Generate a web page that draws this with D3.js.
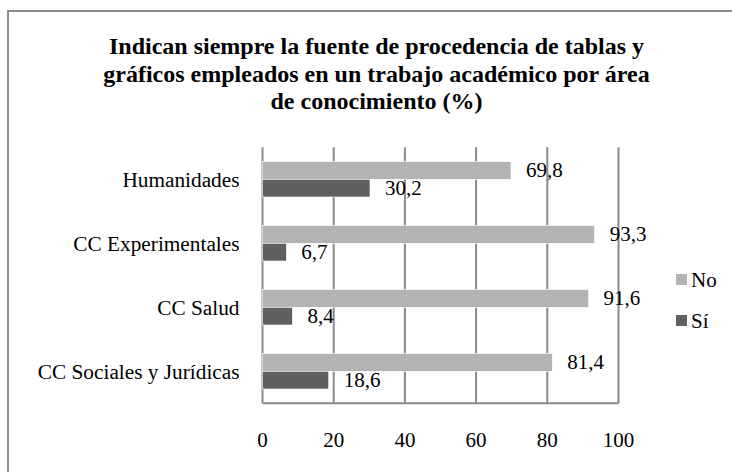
<!DOCTYPE html>
<html>
<head>
<meta charset="utf-8">
<script src="https://cdn.jsdelivr.net/npm/d3@7"></script>
<style>
  body { margin: 0; background: #fff; }
</style>
</head>
<body>
<script>
// data
var categories = ['Humanidades', 'CC Experimentales', 'CC Salud', 'CC Sociales y Jurídicas'];
var seriesNames = ['No', 'Sí'];
var noValues = [69.8, 93.3, 91.6, 81.4];
var siValues = [30.2, 6.7, 8.4, 18.6];
var tickValues = [0, 20, 40, 60, 80, 100];
var titleLines = [
	'Indican siempre la fuente de procedencia de tablas y',
	'gráficos empleados en un trabajo académico por área',
	'de conocimiento (%)'
];

var width = 732,
	height = 472,
	margin = { top: 147.3, right: 113.5, bottom: 68.7, left: 262.5 };

var colors = { 'No': '#b3b3b3', 'Sí': '#606060' };
var gridColor = '#8a8a8a';
var serif = "'Liberation Serif', 'Times New Roman', Times, serif";

var svg = d3.select('body').append('svg')
	.attr('width', width)
	.attr('height', height)
	.attr('font-family', serif);

svg.append('rect')
	.attr('width', width)
	.attr('height', height)
	.attr('fill', '#fff');

// outer chart border (right and bottom edges fall outside the picture)
svg.append('rect')
	.attr('x', 8)
	.attr('y', 11)
	.attr('width', 760)
	.attr('height', 500)
	.attr('fill', 'none')
	.attr('stroke', '#8c8c8c')
	.attr('stroke-width', 2);

// title
svg.append('text')
	.attr('text-anchor', 'middle')
	.style('font-weight', 'bold')
	.style('font-size', '24px')
	.selectAll('tspan')
	.data(titleLines)
	.enter().append('tspan')
	.attr('x', 376.5)
	.attr('y', function(d, i) { return 54 + i * 27.5; })
	.text(function(d) { return d; });

var plotW = width - margin.left - margin.right,
	plotH = height - margin.top - margin.bottom;

var xScale = d3.scaleLinear().domain([0, 100]).range([0, plotW]);
var yScale = d3.scaleBand().domain(categories).range([0, plotH]);
var ySeries = d3.scaleBand().domain(seriesNames)
	.range([0, yScale.bandwidth()])
	.paddingOuter(0.81);

var rows = categories.map(function(c, i) {
	return { category: c, values: [
		{ key: 'No', value: noValues[i] },
		{ key: 'Sí', value: siValues[i] }
	] };
});

var g = svg.append('g')
	.attr('transform', 'translate(' + margin.left + ',' + margin.top + ')');

// vertical gridlines
g.selectAll('.grid')
	.data(tickValues)
	.enter().append('line')
	.attr('class', 'grid')
	.attr('x1', function(d) { return xScale(d); })
	.attr('x2', function(d) { return xScale(d); })
	.attr('y1', 0)
	.attr('y2', plotH)
	.attr('stroke', gridColor)
	.attr('stroke-width', 2);

// bottom axis line
g.append('line')
	.attr('x1', 0)
	.attr('x2', plotW)
	.attr('y1', plotH)
	.attr('y2', plotH)
	.attr('stroke', gridColor)
	.attr('stroke-width', 2);

// x tick labels
g.selectAll('.tick-label')
	.data(tickValues)
	.enter().append('text')
	.attr('class', 'tick-label')
	.attr('text-anchor', 'middle')
	.attr('x', function(d) { return xScale(d); })
	.attr('y', plotH + 43.5)
	.style('font-size', '21px')
	.text(function(d) { return d; });

// category labels
g.selectAll('.cat-label')
	.data(categories)
	.enter().append('text')
	.attr('class', 'cat-label')
	.attr('text-anchor', 'end')
	.attr('x', -23)
	.attr('y', function(d) { return yScale(d) + yScale.bandwidth() / 2 + 7.5; })
	.style('font-size', '21.3px')
	.text(function(d) { return d; });

var group = g.selectAll('.row')
	.data(rows)
	.enter().append('g')
	.attr('class', 'row')
	.attr('transform', function(d) { return 'translate(0,' + yScale(d.category) + ')'; });

group.selectAll('rect')
	.data(function(d) { return d.values; })
	.enter().append('rect')
	.attr('x', 0)
	.attr('y', function(d) { return ySeries(d.key); })
	.attr('width', function(d) { return xScale(d.value); })
	.attr('height', ySeries.bandwidth())
	.attr('fill', function(d) { return colors[d.key]; })
	.attr('stroke', '#fff')
	.attr('stroke-width', 0.6);

var fmt = function(v) { return d3.format('.1f')(v).replace('.', ','); };

group.selectAll('.bar-label')
	.data(function(d) { return d.values; })
	.enter().append('text')
	.attr('class', 'bar-label')
	.attr('x', function(d) { return xScale(d.value) + 15; })
	.attr('y', function(d) { return ySeries(d.key) + ySeries.bandwidth() / 2 + 7; })
	.style('font-size', '21px')
	.text(function(d) { return fmt(d.value); });

// legend
var legend = svg.selectAll('.legend')
	.data(seriesNames)
	.enter().append('g')
	.attr('class', 'legend')
	.attr('transform', function(d, i) { return 'translate(676,' + (274 + i * 41) + ')'; });

legend.append('rect')
	.attr('width', 11)
	.attr('height', 11)
	.attr('fill', function(d) { return colors[d]; });

legend.append('text')
	.attr('x', 15)
	.attr('y', 13)
	.style('font-size', '21px')
	.text(function(d) { return d; });
</script>
</body>
</html>
